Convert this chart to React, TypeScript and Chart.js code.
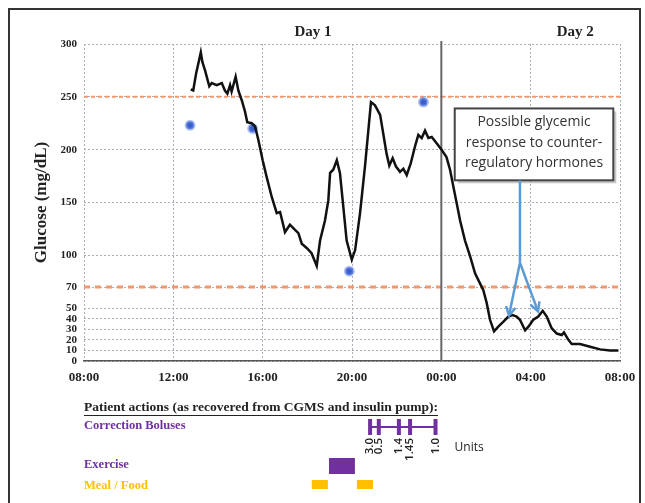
import { useEffect, useRef } from 'react';
import { Chart, registerables } from 'chart.js';
Chart.register(...registerables);

// hours since 08:00 of Day 1
const xTickHours = [0, 4, 8, 12, 16, 20, 24];
const xTickLabels = ['08:00', '12:00', '16:00', '20:00', '00:00', '04:00', '08:00'];
const yTickValues = [0, 10, 20, 30, 40, 50, 70, 100, 150, 200, 250, 300];

const glucoseHours = [4.78, 4.89, 5.02, 5.23, 5.30, 5.42, 5.61, 5.72, 5.94, 6.17, 6.31, 6.42, 6.54, 6.61, 6.79, 6.91, 7.06, 7.21, 7.31, 7.51, 7.66, 7.81, 8.00, 8.18, 8.41, 8.63, 8.78, 9.00, 9.22, 9.45, 9.60, 9.75, 9.97, 10.19, 10.42, 10.57, 10.79, 10.94, 11.02, 11.16, 11.32, 11.46, 11.61, 11.76, 11.99, 12.14, 12.36, 12.58, 12.85, 13.03, 13.26, 13.40, 13.55, 13.67, 13.82, 13.97, 14.15, 14.30, 14.45, 14.63, 14.82, 14.97, 15.12, 15.27, 15.42, 15.57, 15.79, 16.01, 16.23, 16.39, 16.54, 16.69, 16.84, 17.06, 17.29, 17.51, 17.73, 17.88, 18.03, 18.18, 18.36, 18.55, 18.77, 19.00, 19.19, 19.37, 19.52, 19.75, 19.90, 20.12, 20.34, 20.54, 20.72, 20.94, 21.17, 21.39, 21.49, 21.69, 21.84, 22.21, 22.66, 23.11, 23.55, 23.93];
const glucoseValues = [257, 256, 272, 292, 283, 275, 260, 263, 261, 263, 256, 253, 261, 255, 269, 256, 247, 236, 226, 225, 222, 209, 190, 174, 155, 140, 141, 122, 129, 124, 121, 111, 107, 102, 90, 114, 133, 152, 178, 181, 190, 178, 146, 114, 96, 105, 140, 184, 245, 242, 233, 215, 196, 185, 192, 184, 179, 182, 176, 187, 203, 214, 211, 218, 211, 212, 206, 200, 193, 181, 165, 149, 133, 114, 99, 83, 73.5, 67, 55, 39, 28, 32.5, 37, 42, 43.5, 42, 39, 29, 32.5, 39, 42, 47.5, 42, 31, 26, 24.6, 27, 20, 16, 16, 13.5, 11, 10, 10];

const fingerstickHours = [4.75, 7.55, 11.88, 15.2];
const fingerstickValues = [223, 220, 85, 245];

const thresholdValues = [250, 70];
const midnightHour = 16;
const dayLabels = ['Day 1', 'Day 2'];
const dayLabelHours = [10.25, 22];

const annotationLines = ['Possible glycemic', 'response to counter-', 'regulatory hormones'];

const actionsTitle = 'Patient actions (as recovered from CGMS and insulin pump):';
const bolusHours = [12.81, 13.2, 14.1, 14.6, 15.74];
const bolusUnits = ['3.0', '0.5', '1.4', '1.45', '1.0'];
const exerciseHours = [10.97, 12.13];
const mealStartHours = [10.2, 12.22];
const mealEndHours = [10.92, 12.94];

const SERIF = '"Liberation Serif", "DejaVu Serif", serif';
const SANS = '"Open Sans", "Liberation Sans", sans-serif';
const PURPLE = '#7030a0';
const GOLD = '#ffc000';

const overlayPlugin = {
  id: 'overlay',
  beforeDatasetsDraw(chart: any) {
    const { ctx, chartArea, scales } = chart;
    const x = scales.x, y = scales.y;
    ctx.save();
    thresholdValues.forEach((v, i) => {
      const py = y.getPixelForValue(v);
      ctx.strokeStyle = '#f4976a';
      ctx.lineWidth = i === 0 ? 2 : 3;
      ctx.setLineDash(i === 0 ? [4, 3] : [6, 5]);
      ctx.beginPath();
      ctx.moveTo(chartArea.left, py);
      ctx.lineTo(chartArea.right, py);
      ctx.stroke();
    });
    ctx.setLineDash([]);
    const mx = x.getPixelForValue(midnightHour);
    ctx.strokeStyle = '#666';
    ctx.lineWidth = 2;
    ctx.beginPath();
    ctx.moveTo(mx, chartArea.top - 3);
    ctx.lineTo(mx, chartArea.bottom);
    ctx.stroke();
    ctx.restore();
  },
  afterDraw(chart: any) {
    const { ctx, chartArea, scales } = chart;
    const x = scales.x, y = scales.y;
    ctx.save();

    ctx.fillStyle = '#222';
    ctx.font = `bold 15px ${SERIF}`;
    ctx.textAlign = 'center';
    ctx.textBaseline = 'middle';
    dayLabels.forEach((d, i) => ctx.fillText(d, x.getPixelForValue(dayLabelHours[i]), chartArea.top - 12));

    // annotation box
    const bx1 = x.getPixelForValue(16.6), bx2 = x.getPixelForValue(23.7);
    const by1 = y.getPixelForValue(239), by2 = y.getPixelForValue(171);
    ctx.fillStyle = 'rgba(0,0,0,0.22)';
    ctx.fillRect(bx1 + 3, by1 + 3, bx2 - bx1, by2 - by1);
    ctx.fillStyle = '#fff';
    ctx.fillRect(bx1, by1, bx2 - bx1, by2 - by1);
    ctx.strokeStyle = '#444';
    ctx.lineWidth = 2;
    ctx.strokeRect(bx1, by1, bx2 - bx1, by2 - by1);
    ctx.fillStyle = '#333';
    ctx.font = `14px ${SANS}`;
    annotationLines.forEach((t, i) => ctx.fillText(t, (bx1 + bx2) / 2, by1 + 14 + i * 20.5));

    // arrows
    const sx = x.getPixelForValue(19.52);
    const sTop = y.getPixelForValue(171), sBot = y.getPixelForValue(93);
    ctx.strokeStyle = '#5b9bd5';
    ctx.lineWidth = 2.5;
    ctx.beginPath();
    ctx.moveTo(sx, sTop);
    ctx.lineTo(sx, sBot);
    ctx.stroke();
    const tips = [[19.03, 43], [20.33, 47]];
    tips.forEach(([th, tv]) => {
      const tx = x.getPixelForValue(th), ty = y.getPixelForValue(tv);
      ctx.beginPath();
      ctx.moveTo(sx, sBot);
      ctx.lineTo(tx, ty);
      ctx.stroke();
      const ang = Math.atan2(ty - sBot, tx - sx);
      const L = 10;
      ctx.beginPath();
      ctx.moveTo(tx - L * Math.cos(ang - 0.5), ty - L * Math.sin(ang - 0.5));
      ctx.lineTo(tx, ty);
      ctx.lineTo(tx - L * Math.cos(ang + 0.5), ty - L * Math.sin(ang + 0.5));
      ctx.stroke();
    });

    // Patient actions panel
    const left = chartArea.left;
    ctx.textAlign = 'left';
    ctx.fillStyle = '#222';
    ctx.font = `bold 13.5px ${SERIF}`;
    ctx.fillText(actionsTitle, left, 408);
    const tw = ctx.measureText(actionsTitle).width;
    ctx.strokeStyle = '#222';
    ctx.lineWidth = 1;
    ctx.beginPath();
    ctx.moveTo(left, 415.5);
    ctx.lineTo(left + tw, 415.5);
    ctx.stroke();

    ctx.font = `bold 12.5px ${SERIF}`;
    ctx.fillStyle = PURPLE;
    ctx.fillText('Correction Boluses', left, 426);
    ctx.fillText('Exercise', left, 465);
    ctx.fillStyle = GOLD;
    ctx.fillText('Meal / Food', left, 486);

    // boluses
    const bx = bolusHours.map((h) => x.getPixelForValue(h));
    ctx.strokeStyle = PURPLE;
    ctx.lineWidth = 2;
    ctx.beginPath();
    ctx.moveTo(bx[0], 427);
    ctx.lineTo(bx[bx.length - 1], 427);
    ctx.stroke();
    ctx.lineWidth = 4;
    bx.forEach((px) => {
      ctx.beginPath();
      ctx.moveTo(px, 419);
      ctx.lineTo(px, 435);
      ctx.stroke();
    });
    ctx.fillStyle = '#222';
    ctx.font = `600 11.5px ${SANS}`;
    bx.forEach((px, i) => {
      ctx.save();
      ctx.translate(px, 438);
      ctx.rotate(-Math.PI / 2);
      ctx.textAlign = 'right';
      ctx.textBaseline = 'middle';
      ctx.fillText(bolusUnits[i], 0, 0);
      ctx.restore();
    });
    ctx.textAlign = 'left';
    ctx.font = `12px ${SANS}`;
    ctx.fillText('Units', bx[bx.length - 1] + 19, 448);

    const ex1 = x.getPixelForValue(exerciseHours[0]), ex2 = x.getPixelForValue(exerciseHours[1]);
    ctx.fillStyle = PURPLE;
    ctx.fillRect(ex1, 458, ex2 - ex1, 16);
    ctx.fillStyle = GOLD;
    mealStartHours.forEach((h, i) => {
      const m1 = x.getPixelForValue(h), m2 = x.getPixelForValue(mealEndHours[i]);
      ctx.fillRect(m1, 480, m2 - m1, 9);
    });

    ctx.strokeStyle = '#333';
    ctx.lineWidth = 2;
    ctx.strokeRect(9, 9, 631, 520);
    ctx.restore();
  },
};

export default function App() {
  const ref = useRef<HTMLCanvasElement | null>(null);
  useEffect(() => {
    if (!ref.current) return;
    const chart = new Chart(ref.current, {
      type: 'line',
      data: {
        datasets: [
          {
            data: glucoseHours.map((h, i) => ({ x: h, y: glucoseValues[i] })),
            borderColor: '#111',
            borderWidth: 2.5,
            pointRadius: 0,
            tension: 0,
          },
          {
            type: 'scatter',
            data: fingerstickHours.map((h, i) => ({ x: h, y: fingerstickValues[i] })),
            showLine: false,
            pointRadius: 4,
            backgroundColor: '#3a5fcd',
            borderColor: 'rgba(120,150,235,0.55)',
            borderWidth: 3,
          } as any,
        ],
      },
      options: {
        responsive: false,
        animation: false,
        devicePixelRatio: 1,
        layout: { padding: { left: 0, right: 25, top: 44, bottom: 112 } },
        plugins: { legend: { display: false }, tooltip: { enabled: false } },
        scales: {
          x: {
            type: 'linear',
            min: 0,
            max: 24,
            afterBuildTicks: (s: any) => { s.ticks = xTickHours.map((v) => ({ value: v })); },
            afterFit: (s: any) => { s.height = 30; },
            ticks: {
              autoSkip: false,
              maxRotation: 0,
              padding: 9,
              color: '#222',
              font: { family: SERIF, size: 13, weight: 'bold' },
              callback: (v: any) => { const i = xTickHours.indexOf(Number(v)); return i >= 0 ? xTickLabels[i] : ''; },
            },
            grid: { color: '#a9b0b8', lineWidth: 1, drawTicks: false },
            border: { display: true, color: '#555', width: 1.5, dash: [2, 2] },
          },
          y: {
            type: 'linear',
            min: 0,
            max: 300,
            afterBuildTicks: (s: any) => { s.ticks = yTickValues.map((v) => ({ value: v })); },
            afterFit: (s: any) => { s.width = 84; },
            title: {
              display: true,
              text: 'Glucose (mg/dL)',
              color: '#222',
              font: { family: SERIF, size: 17, weight: 'bold' },
              padding: { top: 31, bottom: 0 },
            },
            ticks: {
              autoSkip: false,
              padding: 7,
              color: '#222',
              font: { family: SERIF, size: 11, weight: 'bold' },
            },
            grid: { color: '#a9b0b8', lineWidth: 1, drawTicks: false },
            border: { display: false, dash: [2, 2] },
          },
        },
      },
      plugins: [overlayPlugin],
    } as any);
    return () => chart.destroy();
  }, []);
  return (
    <div style={{ position: 'absolute', left: 0, top: 0, width: 645, height: 503, overflow: 'hidden', background: '#fff' }}>
      <canvas ref={ref} width={645} height={503} />
    </div>
  );
}
